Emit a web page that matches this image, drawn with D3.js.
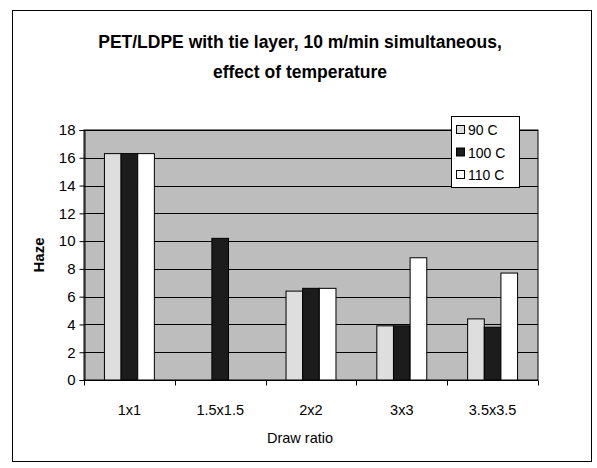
<!DOCTYPE html>
<html>
<head>
<meta charset="utf-8">
<script src="https://cdn.jsdelivr.net/npm/d3@7"></script>
<style>
  html, body { margin: 0; padding: 0; background: #ffffff; }
  svg { display: block; font-family: "Liberation Sans", Arial, sans-serif; }
</style>
</head>
<body>
<svg id="chart" width="597" height="468"></svg>
<script>
// ---- data ----
const categories = ["1x1", "1.5x1.5", "2x2", "3x3", "3.5x3.5"];
const seriesNames = ["90 C", "100 C", "110 C"];
const haze90  = [16.3, null, 6.4, 3.9, 4.4];
const haze100 = [16.3, 10.2, 6.6, 3.9, 3.8];
const haze110 = [16.3, null, 6.6, 8.8, 7.7];
const yTicks = [0, 2, 4, 6, 8, 10, 12, 14, 16, 18];
const titleLines = ["PET/LDPE with tie layer, 10 m/min simultaneous,", "effect of temperature"];
const xTitle = "Draw ratio";
const yTitle = "Haze";

const seriesValues = [haze90, haze100, haze110];
const seriesFill = ["#dedede", "#1c1c1c", "#ffffff"];

const svg = d3.select("#chart");
const plot = { left: 84, right: 538, top: 130, bottom: 380 };

// chart frame
svg.append("rect").attr("x", 12.5).attr("y", 10.5).attr("width", 579).attr("height", 451)
  .attr("fill", "#fff").attr("stroke", "#000").attr("stroke-width", 1);

// title
const title = svg.append("text").attr("text-anchor", "middle").attr("font-weight", "bold")
  .attr("font-size", 17.5).attr("fill", "#000");
titleLines.forEach((t, i) => {
  title.append("tspan").attr("x", 300).attr("y", 48 + i * 30).text(t);
});

// scales
const x0 = d3.scaleBand().domain(categories).range([plot.left, plot.right])
  .paddingInner(0.45).paddingOuter(0.225);
const x1 = d3.scaleBand().domain(seriesNames).range([0, x0.bandwidth()]).padding(0);
const y = d3.scaleLinear().domain([0, 18]).range([plot.bottom, plot.top]);

// plot area
svg.append("rect").attr("x", plot.left).attr("y", plot.top)
  .attr("width", plot.right - plot.left).attr("height", plot.bottom - plot.top)
  .attr("fill", "#bdbdbd").attr("stroke", "#000").attr("stroke-width", 1);

// gridlines
svg.append("g").selectAll("line").data(yTicks.filter(d => d > 0)).join("line")
  .attr("x1", plot.left).attr("x2", plot.right)
  .attr("y1", d => Math.round(y(d)) + 0.5).attr("y2", d => Math.round(y(d)) + 0.5)
  .attr("stroke", "#000").attr("stroke-width", 1);

// bars
const rows = [];
categories.forEach((c, i) => {
  seriesNames.forEach((s, j) => {
    const v = seriesValues[j][i];
    if (v != null) rows.push({ c, s, v, j });
  });
});
svg.append("g").selectAll("rect").data(rows).join("rect")
  .attr("x", d => x0(d.c) + x1(d.s))
  .attr("y", d => y(d.v))
  .attr("width", x1.bandwidth())
  .attr("height", d => y(0) - y(d.v))
  .attr("fill", d => seriesFill[d.j])
  .attr("stroke", "#000").attr("stroke-width", 1);

// y axis
const yAxis = d3.axisLeft(y).tickValues(yTicks).tickSize(5).tickPadding(4).tickFormat(d3.format("d"));
const gy = svg.append("g").attr("transform", `translate(${plot.left + 0.5},0)`).call(yAxis);
gy.select(".domain").attr("stroke", "#000");
gy.selectAll(".tick line").attr("stroke", "#000");
gy.selectAll(".tick text").attr("font-size", 15).attr("fill", "#000")
  .attr("font-family", "'Liberation Sans', Arial, sans-serif");

// x axis
const gx = svg.append("g").attr("transform", `translate(0,${plot.bottom + 0.5})`);
gx.append("line").attr("x1", plot.left).attr("x2", plot.right).attr("stroke", "#000");
const boundaries = d3.range(categories.length + 1).map(i => plot.left + i * x0.step());
gx.selectAll("line.tk").data(boundaries).join("line").attr("class", "tk")
  .attr("x1", d => Math.round(d) + 0.5).attr("x2", d => Math.round(d) + 0.5)
  .attr("y1", 0).attr("y2", 5).attr("stroke", "#000");
gx.selectAll("text").data(categories).join("text")
  .attr("x", d => x0(d) + x0.bandwidth() / 2)
  .attr("y", 34).attr("text-anchor", "middle").attr("font-size", 14.5).attr("fill", "#000")
  .text(d => d);

// axis titles
svg.append("text").attr("x", 300).attr("y", 443).attr("text-anchor", "middle")
  .attr("font-size", 14.5).attr("fill", "#000").text(xTitle);
svg.append("text").attr("transform", "translate(44,255) rotate(-90)")
  .attr("text-anchor", "middle").attr("font-size", 15).attr("font-weight", "bold")
  .attr("fill", "#000").text(yTitle);

// legend
const lg = svg.append("g");
lg.append("rect").attr("x", 451.5).attr("y", 116.5).attr("width", 68).attr("height", 71)
  .attr("fill", "#fff").attr("stroke", "#000").attr("stroke-width", 1);
seriesNames.forEach((s, j) => {
  const cy = 130 + j * 22.5;
  lg.append("rect").attr("x", 456.5).attr("y", cy - 4.5).attr("width", 8).attr("height", 8)
    .attr("fill", seriesFill[j]).attr("stroke", "#000").attr("stroke-width", 1);
  lg.append("text").attr("x", 468).attr("y", cy + 5).attr("font-size", 14).attr("fill", "#000").text(s);
});
</script>
</body>
</html>
